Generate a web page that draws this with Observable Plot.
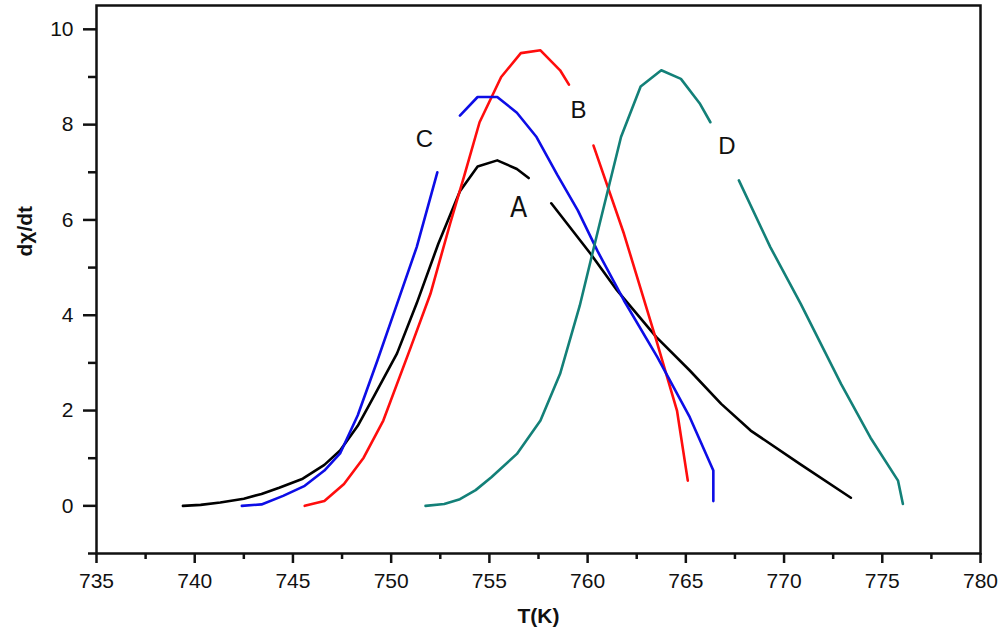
<!DOCTYPE html>
<html>
<head>
<meta charset="utf-8">
<script src="https://cdn.jsdelivr.net/npm/d3@7"></script>
<script src="https://cdn.jsdelivr.net/npm/@observablehq/plot@0.6"></script>
<style>
  html, body { margin: 0; padding: 0; background: #fff; }
  #chart svg { display: block; }
</style>
</head>
<body>
<div id="chart"></div>
<script>
// Curve A (black)
const aT = [739.4, 740.3, 741.3, 742.5, 743.4, 744.3, 745.5, 746.6, 747.4, 748.3, 749.1, 750.3, 751.3, 752.4, 753.5, 754.4, 755.4, 756.4, 757.0, null, 758.15, 760.15, 761.5, 763.5, 765.2, 766.8, 768.3, 770.8, 773.4];
const aV = [0, 0.02, 0.07, 0.15, 0.25, 0.38, 0.57, 0.86, 1.16, 1.68, 2.28, 3.2, 4.25, 5.5, 6.6, 7.12, 7.25, 7.07, 6.88, null, 6.35, 5.29, 4.52, 3.54, 2.84, 2.14, 1.58, 0.88, 0.17];
// Curve B (red)
const bT = [745.6, 746.6, 747.6, 748.6, 749.6, 751.0, 752.0, 753.0, 753.7, 754.5, 755.6, 756.6, 757.6, 758.6, 759.05, null, 760.3, 761.85, 763.5, 764.55, 765.1];
const bV = [0, 0.1, 0.46, 1.01, 1.79, 3.33, 4.45, 5.92, 6.9, 8.05, 9.0, 9.5, 9.56, 9.14, 8.84, null, 7.56, 5.71, 3.47, 2.0, 0.53];
// Curve C (blue)
const cT = [742.4, 743.4, 744.5, 745.6, 746.6, 747.4, 748.3, 749.3, 750.3, 751.3, 752.35, null, 753.5, 754.4, 755.4, 756.4, 757.4, 758.45, 759.5, 760.5, 761.85, 763.55, 765.2, 766.4, 766.4];
const cV = [0, 0.03, 0.21, 0.42, 0.74, 1.1, 1.9, 3.05, 4.24, 5.43, 7.0, null, 8.19, 8.58, 8.58, 8.25, 7.74, 6.95, 6.2, 5.35, 4.31, 3.12, 1.86, 0.74, 0.1];
// Curve D (teal)
const dT = [751.75, 752.7, 753.5, 754.3, 755.1, 756.4, 757.6, 758.6, 759.6, 760.6, 761.7, 762.7, 763.75, 764.75, 765.7, 766.25, null, 767.7, 769.3, 770.85, 772.9, 774.4, 775.8, 776.05];
const dV = [0, 0.04, 0.14, 0.33, 0.6, 1.09, 1.79, 2.77, 4.2, 5.9, 7.74, 8.8, 9.14, 8.96, 8.45, 8.05, null, 6.83, 5.43, 4.24, 2.56, 1.43, 0.53, 0.04];

// Curve labels
const labelNames = ["A", "B", "C", "D"];
const labelT = [756.49, 759.53, 751.69, 767.09];
const labelV = [6.25, 8.30, 7.69, 7.54];

// Ticks
const xMajor = [735, 740, 745, 750, 755, 760, 765, 770, 775, 780];
const xMinor = [737.5, 742.5, 747.5, 752.5, 757.5, 762.5, 767.5, 772.5, 777.5];
const yMajor = [0, 2, 4, 6, 8, 10];
const yMinor = [-1, 1, 3, 5, 7, 9];

const xTitle = "T(K)";
const yTitle = "dχ/dt";

const toRows = (T, V) => T.map((t, i) => ({t, v: V[i]}));
const labels = labelNames.map((n, i) => ({n, t: labelT[i], v: labelV[i]}));

const font = "'Liberation Sans', Arial, sans-serif";
const lw = 2.6;

const chart = Plot.plot({
  width: 1004,
  height: 641,
  marginLeft: 96,
  marginRight: 24,
  marginTop: 5,
  marginBottom: 88,
  style: {fontFamily: font, background: "#fff", color: "#111"},
  x: {domain: [735, 780], axis: null},
  y: {domain: [-1, 10.5], axis: null},
  marks: [
    Plot.frame({stroke: "#111", strokeWidth: 2.5}),
    Plot.axisX(xMajor, {anchor: "bottom", tickSize: 10, tickPadding: 10, strokeWidth: 2.5, fontSize: 21, label: null, tickFormat: d => String(d)}),
    Plot.axisX(xMinor, {anchor: "bottom", tickSize: 6, strokeWidth: 2.5, label: null, tickFormat: () => ""}),
    Plot.axisY(yMajor, {anchor: "left", tickSize: 13, tickPadding: 10, strokeWidth: 2.5, fontSize: 21, label: null, tickFormat: d => String(d)}),
    Plot.axisY(yMinor, {anchor: "left", tickSize: 8, strokeWidth: 2.5, label: null, tickFormat: () => ""}),
    Plot.line(toRows(aT, aV), {x: "t", y: "v", stroke: "#000", strokeWidth: lw}),
    Plot.line(toRows(bT, bV), {x: "t", y: "v", stroke: "#ff0d0d", strokeWidth: lw}),
    Plot.line(toRows(cT, cV), {x: "t", y: "v", stroke: "#0d0de6", strokeWidth: lw}),
    Plot.line(toRows(dT, dV), {x: "t", y: "v", stroke: "#138078", strokeWidth: lw}),
    Plot.text(labels.filter(d => d.n !== "A"), {x: "t", y: "v", text: "n", fontSize: 24, fill: "#111"}),
    Plot.text(labels.filter(d => d.n === "A"), {x: "t", y: "v", text: "n", fontSize: 28, fill: "#111", fontFamily: "'Liberation Sans Narrow', 'DejaVu Sans Condensed', sans-serif"}),
    Plot.text([xTitle], {frameAnchor: "bottom", dy: 69, fontSize: 21, fontWeight: "bold", fill: "#111"}),
    Plot.text([yTitle], {frameAnchor: "left", dx: -71, dy: -23, rotate: -90, fontSize: 21, fontWeight: "bold", fill: "#111"})
  ]
});
document.getElementById("chart").appendChild(chart);
</script>
</body>
</html>
